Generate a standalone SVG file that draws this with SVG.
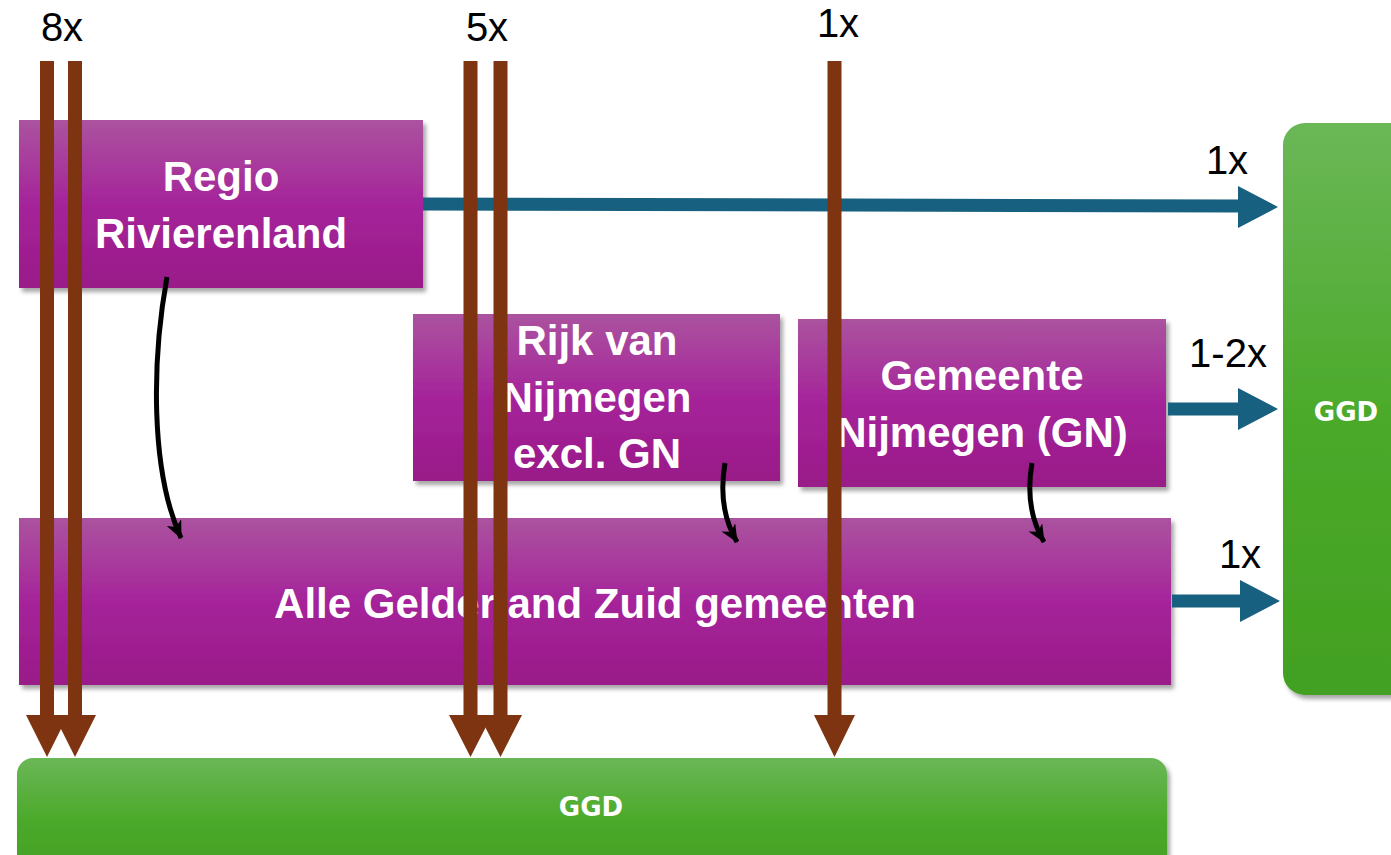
<svg xmlns="http://www.w3.org/2000/svg" width="1391" height="855" viewBox="0 0 1391 855">
<style>
.box{fill:url(#purple);filter:url(#sh)}
.ggd{fill:url(#green)}
.wt{font-family:"Liberation Sans",Arial,sans-serif;font-weight:bold;font-size:42px;fill:#fff;text-anchor:middle}
.gt{font-family:"DejaVu Sans",Verdana,sans-serif;font-weight:bold;font-size:26px;fill:#fff;text-anchor:middle}
.lbl{font-family:"Liberation Sans",Arial,sans-serif;font-size:40px;fill:#000;text-anchor:middle}
.blk{fill:none;stroke:#000;stroke-width:5;marker-end:url(#ah)}
.blue{fill:#17607F}
.brown{fill:#7E3411}
</style>
<defs>
<linearGradient id="purple" x1="0" y1="0" x2="0" y2="1">
<stop offset="0" stop-color="#AB539F"/>
<stop offset="0.5" stop-color="#A5249A"/>
<stop offset="1" stop-color="#991A88"/>
</linearGradient>
<linearGradient id="green" x1="0" y1="0" x2="0" y2="1">
<stop offset="0" stop-color="#6BB757"/>
<stop offset="0.5" stop-color="#4CAA2B"/>
<stop offset="1" stop-color="#42A021"/>
</linearGradient>
<filter id="sh" x="-5%" y="-10%" width="115%" height="130%">
<feDropShadow dx="3" dy="4" stdDeviation="2" flood-color="#000" flood-opacity="0.35"/>
</filter>
<marker id="ah" viewBox="0 0 18 16" markerWidth="18" markerHeight="16" refX="17" refY="8" orient="auto" markerUnits="userSpaceOnUse">
<path d="M0,0 L18,8 L0,16 L5,8 z" fill="#000"/>
</marker>
</defs>
<rect width="1391" height="855" fill="#fff"/>
<g id="ggd-right">
<rect class="ggd" x="1283" y="123" width="130" height="572" rx="22" filter="url(#sh)"/>
<text class="gt" x="1346" y="421">GGD</text>
</g>
<g id="ggd-bottom">
<rect class="ggd" x="17" y="758" width="1150" height="120" rx="16" filter="url(#sh)"/>
<text class="gt" x="591" y="816">GGD</text>
</g>
<g id="regio-rivierenland">
<rect class="box" x="19" y="120" width="404" height="168"/>
<text class="wt" x="221" y="191">Regio</text>
<text class="wt" x="221" y="248">Rivierenland</text>
</g>
<g id="rijk-van-nijmegen">
<rect class="box" x="413" y="314" width="367" height="167"/>
<text class="wt" x="597" y="355">Rijk van</text>
<text class="wt" x="597" y="412">Nijmegen</text>
<text class="wt" x="597" y="468">excl. GN</text>
</g>
<g id="gemeente-nijmegen">
<rect class="box" x="798" y="319" width="368" height="168"/>
<text class="wt" x="982" y="390">Gemeente</text>
<text class="wt" x="982" y="447">Nijmegen (GN)</text>
</g>
<g id="alle-gemeenten">
<rect class="box" x="19" y="518" width="1152" height="167"/>
<text class="wt" x="595" y="618">Alle Gelderland Zuid gemeenten</text>
</g>
<g id="connectors">
<path class="blk" d="M167,277 C152,360 150,470 181,538"/>
<path class="blk" d="M725,463 C720,492 724,520 737,542"/>
<path class="blk" d="M1032,463 C1027,492 1031,520 1044,542"/>
<path class="blue" d="M423,197.5 L1238,199.5 L1238,186 L1278,207 L1238,228 L1238,212.5 L423,210.5 z"/>
<path class="blue" d="M1168,402.5 L1238,402.5 L1238,388 L1278,409 L1238,430 L1238,415.5 L1168,415.5 z"/>
<path class="blue" d="M1172,594.5 L1240,594.5 L1240,580 L1280,601 L1240,622 L1240,607.5 L1172,607.5 z"/>
<path class="brown" d="M40,61 L54,61 L54,715 L68,715 L47,757 L26,715 L40,715 z"/>
<path class="brown" d="M68,61 L82,61 L82,715 L96,715 L75,757 L54,715 L68,715 z"/>
<path class="brown" d="M463.5,61 L477.5,61 L477.5,715 L492,715 L470.5,757 L449,715 L463.5,715 z"/>
<path class="brown" d="M493.5,61 L507.5,61 L507.5,715 L522,715 L500.5,757 L479,715 L493.5,715 z"/>
<path class="brown" d="M827.5,61 L841.5,61 L841.5,715 L855,715 L834.5,757 L814,715 L827.5,715 z"/>
</g>
<g id="labels">
<text class="lbl" x="62" y="41">8x</text>
<text class="lbl" x="487" y="41">5x</text>
<text class="lbl" x="838" y="37">1x</text>
<text class="lbl" x="1227" y="174">1x</text>
<text class="lbl" x="1228" y="367">1-2x</text>
<text class="lbl" x="1240" y="568">1x</text>
</g>
</svg>
